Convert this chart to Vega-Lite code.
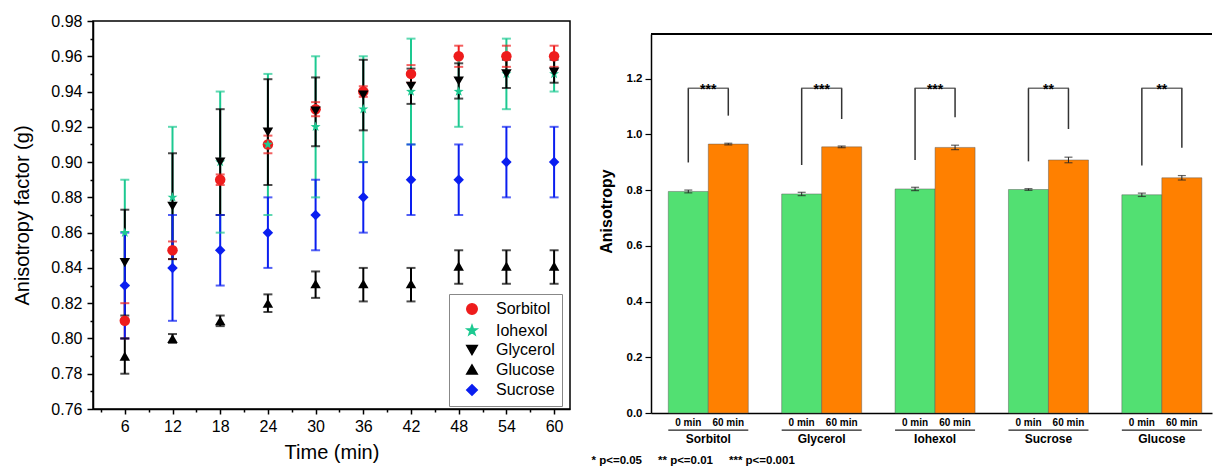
{
  "$schema": "https://vega.github.io/schema/vega-lite/v6.json",
  "padding": {"left": 12, "top": 12, "right": 0, "bottom": 0},
  "config": {
    "font": "Liberation Sans",
    "concat": {"spacing": 20},
    "axis": {"domainColor": "#000", "tickColor": "#000", "labelColor": "#000", "titleColor": "#000", "grid": false, "labelOverlap": false}
  },
  "resolve": {"scale": {"color": "independent", "shape": "independent"}, "legend": {"color": "independent", "shape": "independent"}},
  "datasets": {
    "series": [
      {"series": "Sorbitol", "time": 6, "value": 0.81, "lo": 0.80, "hi": 0.82},
      {"series": "Sorbitol", "time": 12, "value": 0.85, "lo": 0.845, "hi": 0.855},
      {"series": "Sorbitol", "time": 18, "value": 0.89, "lo": 0.887, "hi": 0.893},
      {"series": "Sorbitol", "time": 24, "value": 0.91, "lo": 0.905, "hi": 0.915},
      {"series": "Sorbitol", "time": 30, "value": 0.93, "lo": 0.926, "hi": 0.934},
      {"series": "Sorbitol", "time": 36, "value": 0.94, "lo": 0.937, "hi": 0.943},
      {"series": "Sorbitol", "time": 42, "value": 0.95, "lo": 0.945, "hi": 0.955},
      {"series": "Sorbitol", "time": 48, "value": 0.96, "lo": 0.954, "hi": 0.966},
      {"series": "Sorbitol", "time": 54, "value": 0.96, "lo": 0.954, "hi": 0.966},
      {"series": "Sorbitol", "time": 60, "value": 0.96, "lo": 0.954, "hi": 0.966},
      {"series": "Iohexol", "time": 6, "value": 0.86, "lo": 0.83, "hi": 0.89},
      {"series": "Iohexol", "time": 12, "value": 0.88, "lo": 0.84, "hi": 0.92},
      {"series": "Iohexol", "time": 18, "value": 0.90, "lo": 0.86, "hi": 0.94},
      {"series": "Iohexol", "time": 24, "value": 0.91, "lo": 0.87, "hi": 0.95},
      {"series": "Iohexol", "time": 30, "value": 0.92, "lo": 0.88, "hi": 0.96},
      {"series": "Iohexol", "time": 36, "value": 0.93, "lo": 0.90, "hi": 0.96},
      {"series": "Iohexol", "time": 42, "value": 0.94, "lo": 0.91, "hi": 0.97},
      {"series": "Iohexol", "time": 48, "value": 0.94, "lo": 0.92, "hi": 0.96},
      {"series": "Iohexol", "time": 54, "value": 0.95, "lo": 0.93, "hi": 0.97},
      {"series": "Iohexol", "time": 60, "value": 0.95, "lo": 0.94, "hi": 0.96},
      {"series": "Glycerol", "time": 6, "value": 0.843, "lo": 0.813, "hi": 0.873},
      {"series": "Glycerol", "time": 12, "value": 0.875, "lo": 0.845, "hi": 0.905},
      {"series": "Glycerol", "time": 18, "value": 0.90, "lo": 0.87, "hi": 0.93},
      {"series": "Glycerol", "time": 24, "value": 0.917, "lo": 0.887, "hi": 0.947},
      {"series": "Glycerol", "time": 30, "value": 0.929, "lo": 0.909, "hi": 0.948},
      {"series": "Glycerol", "time": 36, "value": 0.938, "lo": 0.918, "hi": 0.958},
      {"series": "Glycerol", "time": 42, "value": 0.943, "lo": 0.933, "hi": 0.953},
      {"series": "Glycerol", "time": 48, "value": 0.946, "lo": 0.936, "hi": 0.956},
      {"series": "Glycerol", "time": 54, "value": 0.950, "lo": 0.942, "hi": 0.958},
      {"series": "Glycerol", "time": 60, "value": 0.951, "lo": 0.945, "hi": 0.958},
      {"series": "Glucose", "time": 6, "value": 0.79, "lo": 0.78, "hi": 0.80},
      {"series": "Glucose", "time": 12, "value": 0.80, "lo": 0.7975, "hi": 0.8025},
      {"series": "Glucose", "time": 18, "value": 0.81, "lo": 0.807, "hi": 0.813},
      {"series": "Glucose", "time": 24, "value": 0.82, "lo": 0.815, "hi": 0.825},
      {"series": "Glucose", "time": 30, "value": 0.831, "lo": 0.823, "hi": 0.838},
      {"series": "Glucose", "time": 36, "value": 0.831, "lo": 0.821, "hi": 0.840},
      {"series": "Glucose", "time": 42, "value": 0.831, "lo": 0.821, "hi": 0.840},
      {"series": "Glucose", "time": 48, "value": 0.841, "lo": 0.831, "hi": 0.850},
      {"series": "Glucose", "time": 54, "value": 0.841, "lo": 0.831, "hi": 0.850},
      {"series": "Glucose", "time": 60, "value": 0.841, "lo": 0.831, "hi": 0.850},
      {"series": "Sucrose", "time": 6, "value": 0.83, "lo": 0.80, "hi": 0.86},
      {"series": "Sucrose", "time": 12, "value": 0.84, "lo": 0.81, "hi": 0.87},
      {"series": "Sucrose", "time": 18, "value": 0.85, "lo": 0.83, "hi": 0.87},
      {"series": "Sucrose", "time": 24, "value": 0.86, "lo": 0.84, "hi": 0.88},
      {"series": "Sucrose", "time": 30, "value": 0.87, "lo": 0.85, "hi": 0.89},
      {"series": "Sucrose", "time": 36, "value": 0.88, "lo": 0.86, "hi": 0.90},
      {"series": "Sucrose", "time": 42, "value": 0.89, "lo": 0.87, "hi": 0.91},
      {"series": "Sucrose", "time": 48, "value": 0.89, "lo": 0.87, "hi": 0.91},
      {"series": "Sucrose", "time": 54, "value": 0.90, "lo": 0.88, "hi": 0.92},
      {"series": "Sucrose", "time": 60, "value": 0.90, "lo": 0.88, "hi": 0.92}
    ],
    "bars": [
      {"group": "Sorbitol", "time": "0 min", "value": 0.795, "lo": 0.790, "hi": 0.800},
      {"group": "Sorbitol", "time": "60 min", "value": 0.965, "lo": 0.962, "hi": 0.968},
      {"group": "Glycerol", "time": "0 min", "value": 0.786, "lo": 0.780, "hi": 0.792},
      {"group": "Glycerol", "time": "60 min", "value": 0.955, "lo": 0.952, "hi": 0.958},
      {"group": "Iohexol", "time": "0 min", "value": 0.804, "lo": 0.798, "hi": 0.810},
      {"group": "Iohexol", "time": "60 min", "value": 0.953, "lo": 0.945, "hi": 0.961},
      {"group": "Sucrose", "time": "0 min", "value": 0.802, "lo": 0.799, "hi": 0.805},
      {"group": "Sucrose", "time": "60 min", "value": 0.908, "lo": 0.898, "hi": 0.918},
      {"group": "Glucose", "time": "0 min", "value": 0.783, "lo": 0.777, "hi": 0.789},
      {"group": "Glucose", "time": "60 min", "value": 0.844, "lo": 0.836, "hi": 0.852}
    ],
    "brk": [
      {"group": "Sorbitol", "time": "0 min", "from": 0.899, "to": 1.165},
      {"group": "Sorbitol", "time": "60 min", "from": 1.067, "to": 1.165},
      {"group": "Glycerol", "time": "0 min", "from": 0.890, "to": 1.165},
      {"group": "Glycerol", "time": "60 min", "from": 1.055, "to": 1.165},
      {"group": "Iohexol", "time": "0 min", "from": 0.908, "to": 1.165},
      {"group": "Iohexol", "time": "60 min", "from": 1.061, "to": 1.165},
      {"group": "Sucrose", "time": "0 min", "from": 0.903, "to": 1.165},
      {"group": "Sucrose", "time": "60 min", "from": 1.019, "to": 1.165},
      {"group": "Glucose", "time": "0 min", "from": 0.888, "to": 1.165},
      {"group": "Glucose", "time": "60 min", "from": 0.952, "to": 1.165}
    ],
    "sig": [
      {"group": "Sorbitol", "top": 1.165, "stars": "***"},
      {"group": "Glycerol", "top": 1.165, "stars": "***"},
      {"group": "Iohexol", "top": 1.165, "stars": "***"},
      {"group": "Sucrose", "top": 1.165, "stars": "**"},
      {"group": "Glucose", "top": 1.165, "stars": "**"}
    ]
  },
  "hconcat": [
    {
      "width": 477,
      "height": 388,
      "view": {"stroke": "#000", "strokeWidth": 1.5},
      "data": {"name": "series"},
      "encoding": {
        "x": {
          "field": "time", "type": "quantitative", "title": "Time (min)",
          "scale": {"domain": [2, 62], "nice": false, "zero": false},
          "axis": {
            "values": [3, 6, 9, 12, 15, 18, 21, 24, 27, 30, 33, 36, 39, 42, 45, 48, 51, 54, 57, 60],
            "labelExpr": "datum.value % 6 === 0 ? datum.label : ''",
            "labelOverlap": false,
            "tickSize": {"condition": {"test": "datum.value % 6 === 0", "value": 5}, "value": 3},
            "tickWidth": 1.5, "domainWidth": 1.5,
            "labelFontSize": 16, "labelPadding": 4,
            "titleFontSize": 20, "titleFontWeight": "normal", "titlePadding": 8
          }
        },
        "y": {
          "field": "lo", "type": "quantitative", "title": "Anisotropy factor (g)",
          "scale": {"domain": [0.76, 0.98], "nice": false, "zero": false},
          "axis": {
            "values": [0.76, 0.77, 0.78, 0.79, 0.8, 0.81, 0.82, 0.83, 0.84, 0.85, 0.86, 0.87, 0.88, 0.89, 0.9, 0.91, 0.92, 0.93, 0.94, 0.95, 0.96, 0.97, 0.98],
            "labelExpr": "(round(datum.value*100) % 2) == 0 ? format(datum.value, '.2f') : ''",
            "labelOverlap": false,
            "labelFlush": false,
            "labelBound": false,
            "labelSeparation": 0,
            "tickSize": {"condition": {"test": "(round(datum.value*100) % 2) == 0", "value": 6}, "value": 3},
            "tickWidth": 1.5, "domainWidth": 1.5,
            "labelFontSize": 16, "labelPadding": 5,
            "titleFontSize": 20, "titleFontWeight": "normal", "titlePadding": 18
          }
        },
        "color": {
          "field": "series", "type": "nominal",
          "scale": {"domain": ["Sorbitol", "Iohexol", "Glycerol", "Glucose", "Sucrose"], "range": ["#ee1c1c", "#1dc991", "#000000", "#000000", "#0a1ef0"]},
          "legend": {"title": null, "orient": "none", "legendX": 356, "legendY": 273, "strokeColor": "#888", "fillColor": "#fff", "padding": 7, "labelFontSize": 16, "symbolSize": 110, "symbolOpacity": 1, "rowPadding": 3.5, "symbolOffset": 8, "labelOffset": 16, "labelColor": "#000"}
        }
      },
      "layer": [
        {
          "mark": {"type": "rule", "strokeWidth": 2},
          "encoding": {"y2": {"field": "hi"}}
        },
        {
          "mark": {"type": "tick", "orient": "horizontal", "size": 9, "thickness": 2}
        },
        {
          "mark": {"type": "tick", "orient": "horizontal", "size": 9, "thickness": 2},
          "encoding": {"y": {"field": "hi", "type": "quantitative"}}
        },
        {
          "mark": {"type": "point", "filled": true, "size": 110, "opacity": 1},
          "encoding": {
            "y": {"field": "value", "type": "quantitative"},
            "shape": {
              "field": "series", "type": "nominal",
              "scale": {"domain": ["Sorbitol", "Iohexol", "Glycerol", "Glucose", "Sucrose"], "range": ["circle", "M0,-1L0.235,-0.324L0.951,-0.309L0.38,0.124L0.588,0.809L0,0.4L-0.588,0.809L-0.38,0.124L-0.951,-0.309L-0.235,-0.324Z", "triangle-down", "triangle-up", "diamond"]},
              "legend": {"title": null, "orient": "none", "legendX": 356, "legendY": 273, "strokeColor": "#888", "fillColor": "#fff", "padding": 7, "labelFontSize": 16, "symbolSize": 110, "symbolOpacity": 1, "rowPadding": 3.5, "symbolOffset": 8, "labelOffset": 16, "labelColor": "#000"}
            }
          }
        }
      ]
    },
    {
      "width": 561,
      "height": 392,
      "view": {"stroke": null},
      "layer": [
        {
          "data": {"name": "bars"},
          "mark": {"type": "bar", "stroke": "#555", "strokeOpacity": 0.45, "strokeWidth": 1},
          "encoding": {
            "x": {
              "field": "group", "type": "nominal", "sort": ["Sorbitol", "Glycerol", "Iohexol", "Sucrose", "Glucose"],
              "title": "* p<=0.05\u00a0\u00a0\u00a0\u00a0 ** p<=0.01\u00a0\u00a0\u00a0\u00a0 *** p<=0.001",
              "scale": {"paddingInner": 0.2945, "paddingOuter": 0.121, "align": 0.63},
              "axis": {
                "ticks": false, "labelAngle": 0, "labelFontSize": 12, "labelFontWeight": "bold", "labelPadding": 20,
                "domainWidth": 1.5, "titleFontSize": 11.5, "titleFontWeight": "bold",
                "titleX": -60, "titleAlign": "left", "titleAnchor": "start", "titlePadding": 10
              }
            },
            "xOffset": {"field": "time", "type": "nominal", "sort": ["0 min", "60 min"], "scale": {"paddingInner": 0, "paddingOuter": 0}},
            "y": {
              "field": "value", "type": "quantitative", "title": "Anisotropy",
              "scale": {"domain": [0, 1.36], "nice": false, "zero": true, "range": [392, 13]},
              "axis": {
                "values": [0, 0.1, 0.2, 0.3, 0.4, 0.5, 0.6, 0.7, 0.8, 0.9, 1.0, 1.1, 1.2, 1.3],
                "labelExpr": "round(datum.value*10) % 2 === 0 ? format(datum.value, '.1f') : ''",
                "labelOverlap": false,
                "tickSize": {"condition": {"test": "round(datum.value*10) % 2 === 0", "value": 6}, "value": 3},
                "tickWidth": 1.2, "domainWidth": 1.5,
                "labelFontSize": 11.5, "labelFontWeight": "bold", "labelPadding": 3,
                "titleFontSize": 16, "titleFontWeight": "bold", "titlePadding": 12, "titleY": 190
              }
            },
            "color": {"field": "time", "type": "nominal", "scale": {"domain": ["0 min", "60 min"], "range": ["#52e072", "#ff8000"]}, "legend": null}
          }
        },
        {
          "data": {"name": "bars"},
          "mark": {"type": "rule", "color": "#222", "strokeWidth": 1},
          "encoding": {
            "x": {"field": "group", "type": "nominal", "sort": ["Sorbitol", "Glycerol", "Iohexol", "Sucrose", "Glucose"]},
            "xOffset": {"field": "time", "type": "nominal", "sort": ["0 min", "60 min"]},
            "y": {"field": "lo", "type": "quantitative"},
            "y2": {"field": "hi"}
          }
        },
        {
          "data": {"name": "bars"},
          "mark": {"type": "tick", "orient": "horizontal", "size": 8, "thickness": 1.2, "color": "#222"},
          "encoding": {
            "x": {"field": "group", "type": "nominal", "sort": ["Sorbitol", "Glycerol", "Iohexol", "Sucrose", "Glucose"]},
            "xOffset": {"field": "time", "type": "nominal", "sort": ["0 min", "60 min"]},
            "y": {"field": "lo", "type": "quantitative"}
          }
        },
        {
          "data": {"name": "bars"},
          "mark": {"type": "tick", "orient": "horizontal", "size": 8, "thickness": 1.2, "color": "#222"},
          "encoding": {
            "x": {"field": "group", "type": "nominal", "sort": ["Sorbitol", "Glycerol", "Iohexol", "Sucrose", "Glucose"]},
            "xOffset": {"field": "time", "type": "nominal", "sort": ["0 min", "60 min"]},
            "y": {"field": "hi", "type": "quantitative"}
          }
        },
        {
          "data": {"name": "bars"},
          "mark": {"type": "text", "fontSize": 10, "fontWeight": "bold", "color": "#000", "baseline": "middle", "dy": 10},
          "encoding": {
            "x": {"field": "group", "type": "nominal", "sort": ["Sorbitol", "Glycerol", "Iohexol", "Sucrose", "Glucose"]},
            "xOffset": {"field": "time", "type": "nominal", "sort": ["0 min", "60 min"]},
            "y": {"datum": 0, "type": "quantitative"},
            "text": {"field": "time"}
          }
        },
        {
          "data": {"name": "sig"},
          "mark": {"type": "bar", "color": "#222"},
          "encoding": {
            "x": {"field": "group", "type": "nominal", "sort": ["Sorbitol", "Glycerol", "Iohexol", "Sucrose", "Glucose"]},
            "y": {"datum": -0.0595, "type": "quantitative"},
            "y2": {"datum": -0.064}
          }
        },
        {
          "data": {"name": "brk"},
          "mark": {"type": "rule", "color": "#333", "strokeWidth": 1.5},
          "encoding": {
            "x": {"field": "group", "type": "nominal", "sort": ["Sorbitol", "Glycerol", "Iohexol", "Sucrose", "Glucose"]},
            "xOffset": {"field": "time", "type": "nominal", "sort": ["0 min", "60 min"]},
            "y": {"field": "from", "type": "quantitative"},
            "y2": {"field": "to"}
          }
        },
        {
          "data": {"name": "sig"},
          "mark": {"type": "tick", "orient": "horizontal", "size": 41, "thickness": 1.5, "color": "#333"},
          "encoding": {
            "x": {"field": "group", "type": "nominal", "sort": ["Sorbitol", "Glycerol", "Iohexol", "Sucrose", "Glucose"]},
            "y": {"field": "top", "type": "quantitative"}
          }
        },
        {
          "data": {"name": "sig"},
          "mark": {"type": "text", "fontSize": 14, "fontWeight": "bold", "color": "#000", "baseline": "alphabetic", "dy": 6},
          "encoding": {
            "x": {"field": "group", "type": "nominal", "sort": ["Sorbitol", "Glycerol", "Iohexol", "Sucrose", "Glucose"]},
            "y": {"field": "top", "type": "quantitative"},
            "text": {"field": "stars"}
          }
        },
        {
          "data": {"name": "sig"},
          "mark": {"type": "rule", "color": "#000", "strokeWidth": 1.5},
          "encoding": {
            "y": {"datum": 1.36, "type": "quantitative"}
          }
        }
      ]
    }
  ]
}
